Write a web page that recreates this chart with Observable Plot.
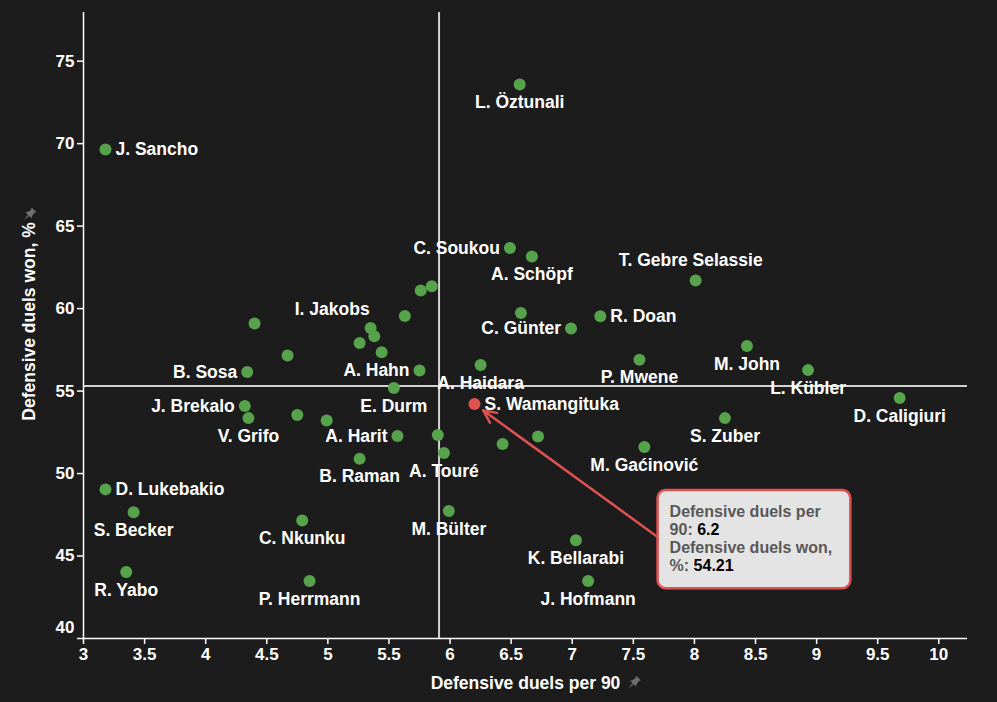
<!DOCTYPE html>
<html>
<head>
<meta charset="utf-8">
<script src="https://cdn.jsdelivr.net/npm/d3@7"></script>
<script src="https://cdn.jsdelivr.net/npm/@observablehq/plot@0.6"></script>
<style>
  html, body { margin: 0; padding: 0; background: #1c1c1c; }
  #chart svg { display: block; }
</style>
</head>
<body>
<div id="chart"></div>
<script>
// ---------- data ----------
const players = [
  "L. Öztunali", "J. Sancho", "C. Soukou", "A. Schöpf", "T. Gebre Selassie",
  "", "", "", "", "R. Doan",
  "", "C. Günter", "I. Jakobs", "", "",
  "", "", "A. Hahn", "E. Durm", "A. Haidara",
  "B. Sosa", "P. Mwene", "M. John", "L. Kübler", "D. Caligiuri",
  "S. Wamangituka", "J. Brekalo", "V. Grifo", "", "",
  "A. Harit", "", "A. Touré", "", "",
  "M. Gaćinović", "S. Zuber", "B. Raman", "D. Lukebakio", "S. Becker",
  "C. Nkunku", "M. Bülter", "K. Bellarabi", "J. Hofmann", "R. Yabo",
  "P. Herrmann"
];
const duelsPer90 = [
  6.57, 3.18, 6.49, 6.67, 8.01,
  5.76, 5.85, 5.63, 4.40, 7.23,
  6.58, 6.99, 5.35, 5.38, 5.26,
  5.44, 4.67, 5.75, 5.54, 6.25,
  4.34, 7.55, 8.43, 8.93, 9.68,
  6.2, 4.32, 4.35, 4.75, 4.99,
  5.57, 5.90, 5.95, 6.43, 6.72,
  7.59, 8.25, 5.26, 3.18, 3.41,
  4.79, 5.99, 7.03, 7.13, 3.35,
  4.85
];
const duelsWonPct = [
  73.59, 69.65, 63.67, 63.16, 61.71,
  61.10, 61.36, 59.55, 59.10, 59.53,
  59.73, 58.80, 58.82, 58.32, 57.91,
  57.36, 57.16, 56.25, 55.18, 56.58,
  56.15, 56.90, 57.73, 56.27, 54.58,
  54.21, 54.09, 53.36, 53.55, 53.22,
  52.27, 52.33, 51.24, 51.79, 52.25,
  51.61, 53.36, 50.90, 49.04, 47.65,
  47.16, 47.73, 45.95, 43.48, 44.03,
  43.48
];
const labelPlacement = [
  "below", "right", "left", "below", "above",
  "none", "none", "none", "none", "right",
  "none", "left", "aboveleft", "none", "none",
  "none", "none", "left", "below", "below",
  "left", "below", "below", "below", "below",
  "right", "left", "below", "none", "none",
  "left", "none", "below", "none", "none",
  "below", "below", "below", "right", "below",
  "below", "below", "below", "below", "below",
  "below"
];
const highlightedPlayer = "S. Wamangituka";
const meanX = 5.91;
const meanY = 55.3;
const xDomain = [3, 10.235];
const yDomain = [40, 77.95];
const xTicks = [3, 3.5, 4, 4.5, 5, 5.5, 6, 6.5, 7, 7.5, 8, 8.5, 9, 9.5, 10];
const yTicks = [45, 50, 55, 60, 65, 70, 75];
const yBottomTick = [40];
const xTitle = "Defensive duels per 90";
const yTitle = "Defensive duels won, %";
const tipLines = [
  ["Defensive duels per", ""],
  ["90: ", "6.2"],
  ["Defensive duels won,", ""],
  ["%: ", "54.21"]
];

// ---------- styles ----------
const GREEN = "#56a34c";
const RED = "#e05252";
const WHITE = "#ffffff";
const MEAN = "#d2d2d2";

const data = players.map((name, i) => ({
  name, x: duelsPer90[i], y: duelsWonPct[i], pos: labelPlacement[i]
}));
const others = data.filter(d => d.name !== highlightedPlayer);
const hl = data.filter(d => d.name === highlightedPlayer);

const placements = {
  right: {dx: 10, dy: 0, textAnchor: "start"},
  left: {dx: -10, dy: 0, textAnchor: "end"},
  below: {dx: 0, dy: 18, textAnchor: "middle"},
  above: {dx: -5, dy: -20, textAnchor: "middle"},
  aboveleft: {dx: -1, dy: -19, textAnchor: "end"}
};
const labelMarks = Object.entries(placements).map(([key, p]) =>
  Plot.text(data.filter(d => d.pos === key), {
    x: "x", y: "y", text: "name",
    dx: p.dx, dy: p.dy, textAnchor: p.textAnchor, lineAnchor: "middle",
    fill: WHITE, fontSize: 17.5, fontWeight: "bold"
  })
);

const plot = Plot.plot({
  width: 997,
  height: 702,
  marginTop: 12,
  marginRight: 30,
  marginBottom: 64,
  marginLeft: 83,
  style: {
    background: "#1c1c1c",
    color: WHITE,
    fontFamily: "'Liberation Sans', Arial, sans-serif",
    fontSize: "17px",
    fontWeight: "bold",
    overflow: "visible"
  },
  x: {domain: xDomain},
  y: {domain: yDomain},
  marks: [
    Plot.ruleX([meanX], {stroke: MEAN, strokeWidth: 2}),
    Plot.ruleY([meanY], {stroke: MEAN, strokeWidth: 2}),
    Plot.ruleX([xDomain[0]], {stroke: WHITE, strokeWidth: 1.5}),
    Plot.ruleY([yDomain[0]], {stroke: WHITE, strokeWidth: 1.5}),
    Plot.axisX(xTicks, {tickFormat: d => String(d), tickSize: 6, tickPadding: 3, label: null, fontSize: 17, strokeWidth: 1.5}),
    Plot.axisY(yTicks, {tickFormat: d => String(d), tickSize: 6, tickPadding: 3, label: null, fontSize: 17, strokeWidth: 1.5}),
    Plot.axisY(yBottomTick, {tickFormat: () => "", tickSize: 6, label: null, strokeWidth: 1.5}),
    Plot.axisY(yBottomTick, {tickFormat: d => String(d), tickSize: 0, tickPadding: 9, dy: -11, label: null, fontSize: 17}),
    Plot.text([xTitle], {text: d => d, frameAnchor: "bottom", dy: 45, lineAnchor: "middle", textAnchor: "middle", fill: WHITE, fontSize: 17.5, fontWeight: "bold"}),
    Plot.text([yTitle], {text: d => d, frameAnchor: "left", dx: -54, dy: -4, rotate: -90, lineAnchor: "middle", textAnchor: "middle", fill: WHITE, fontSize: 17.5, fontWeight: "bold"}),
    Plot.dot(others, {x: "x", y: "y", r: 6, fill: GREEN}),
    Plot.dot(hl, {x: "x", y: "y", r: 6, fill: RED}),
    ...labelMarks
  ]
});

document.getElementById("chart").appendChild(plot);

// ---------- annotations (tooltip box with arrow, pin icons) ----------
const svg = d3.select(plot);
const sx = plot.scale("x"), sy = plot.scale("y");
const h = hl[0];
const px = sx.apply(h.x), py = sy.apply(h.y);

const box = {dx: 183.6, dy: 86.3, w: 192.7, h: 98.3};
const start = [px + box.dx, py + 133.3];
const end = [px + 9.3, py + 6.8];
const ann = svg.append("g");
ann.append("line")
  .attr("x1", start[0]).attr("y1", start[1])
  .attr("x2", end[0]).attr("y2", end[1])
  .attr("stroke", RED).attr("stroke-width", 2.5);
const ang = Math.atan2(start[1] - end[1], start[0] - end[0]);
[-0.45, 0.45].forEach(a => {
  ann.append("line")
    .attr("x1", end[0]).attr("y1", end[1])
    .attr("x2", end[0] + 14 * Math.cos(ang + a))
    .attr("y2", end[1] + 14 * Math.sin(ang + a))
    .attr("stroke", RED).attr("stroke-width", 2.5).attr("stroke-linecap", "round");
});
ann.append("rect")
  .attr("x", px + box.dx).attr("y", py + box.dy)
  .attr("width", box.w).attr("height", box.h)
  .attr("rx", 8).attr("ry", 8)
  .attr("fill", "#e4e4e4").attr("stroke", RED).attr("stroke-width", 2.5);
const lineYs = [20.7, 38.7, 57.3, 75.3];
tipLines.forEach(([grey, black], i) => {
  const t = ann.append("text")
    .attr("x", px + box.dx + 12)
    .attr("y", py + box.dy + lineYs[i])
    .attr("text-anchor", "start")
    .attr("dominant-baseline", "central")
    .attr("font-size", 16).attr("font-weight", "bold");
  t.append("tspan").attr("fill", "#585858").text(grey);
  if (black) t.append("tspan").attr("fill", "#000").text(black);
});

function pin(cx, cy) {
  const g = svg.append("g").attr("transform", `translate(${cx},${cy}) rotate(45)`).attr("fill", "#6f6f6f");
  g.append("path").attr("d", "M-3,-7 L3,-7 L3,-5.5 L2,-5.5 L3.2,-0.5 L4.5,0.8 L-4.5,0.8 L-3.2,-0.5 L-2,-5.5 L-3,-5.5 Z");
  g.append("path").attr("d", "M-0.8,0.8 L0.8,0.8 L0,7.5 Z");
}
svg.selectAll("text").each(function() {
  const txt = this.textContent;
  if (txt === xTitle) {
    const r = this.getBoundingClientRect();
    const pr = plot.getBoundingClientRect();
    pin(r.right - pr.left + 13, (r.top + r.bottom) / 2 - pr.top);
  } else if (txt === yTitle) {
    const r = this.getBoundingClientRect();
    const pr = plot.getBoundingClientRect();
    pin((r.left + r.right) / 2 - pr.left, r.top - pr.top - 7);
  }
});
</script>
</body>
</html>
